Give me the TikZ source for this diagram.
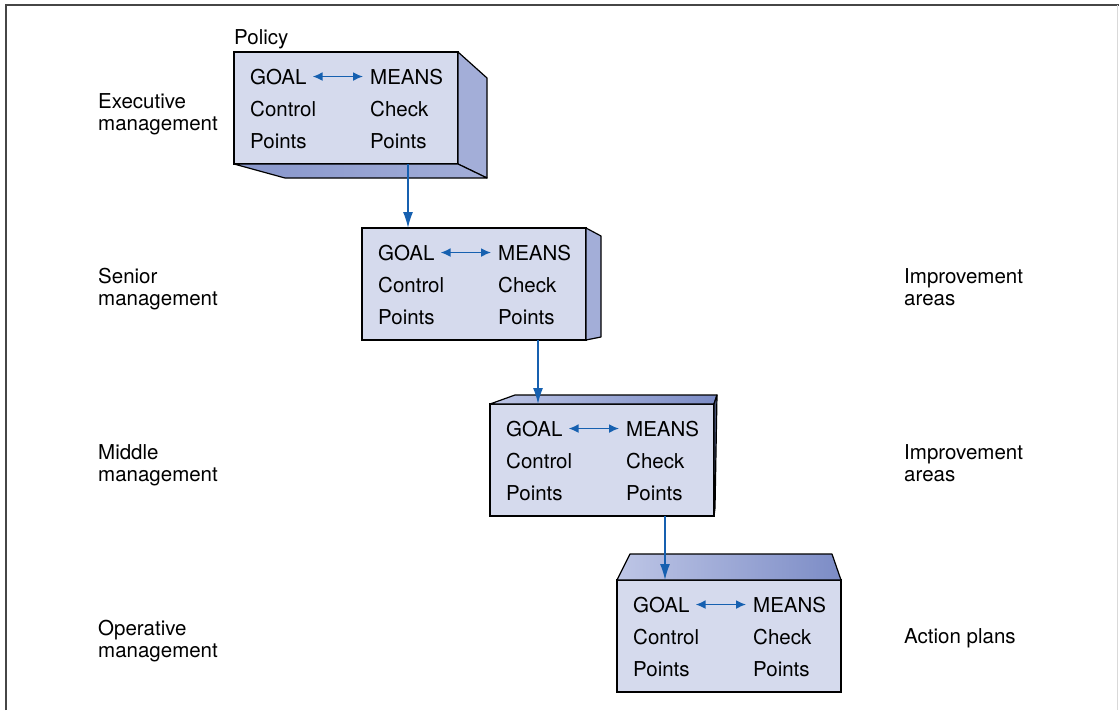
\documentclass[tikz,border=0pt]{standalone}
\usepackage{fontspec}
\setmainfont{TeX Gyre Heros}
\usetikzlibrary{arrows.meta,calc}
\definecolor{flowblue}{RGB}{22,96,176}
\definecolor{boxfront}{RGB}{213,218,237}
\definecolor{boxside}{RGB}{163,174,216}
\definecolor{boxlight}{RGB}{190,198,230}
\definecolor{boxdark}{RGB}{124,140,198}
\definecolor{framegray}{RGB}{70,70,70}

\begin{document}
\begin{tikzpicture}[x=1pt, y=-1pt,
        front/.style={rectangle, draw=black, line width=1.2pt, fill=boxfront, minimum width=224pt, minimum height=112pt, inner sep=0pt, outer sep=0pt, anchor=north west},
        face/.style={draw=black, line width=1.2pt, line join=round},
        cell/.style={inner sep=0pt, anchor=base west, font=\fontsize{20.5}{24}\selectfont},
        level/.style={inner sep=0pt, anchor=base west, align=left, font=\fontsize{20.5}{22}\selectfont},
        flow/.style={-{Latex[length=16pt,width=10pt]}, flowblue, line width=1.5pt},
        link/.style={{Latex[length=10pt,width=9pt]}-{Latex[length=10pt,width=9pt]}, flowblue, line width=1.6pt, shorten <=6pt, shorten >=7pt}]

        \useasboundingbox (0,0) rectangle (1119,710);

        % Frame
        \draw[framegray, line width=2.5pt] (6,710) -- (6,5) -- (1119,5);
        \draw[black!15, line width=1pt] (1117.5,5) -- (1117.5,710);

        % Box fronts
        \node[front] (box1) at (234,52) {};
        \node[front] (box2) at (362,228) {};
        \node[front] (box3) at (490,404) {};
        \node[front] (box4) at (617,580) {};

        % Box depth faces
        \draw[face, fill=boxside] (box1.north east) -- ++(29,26) -- ++(0,100) -- (box1.south east) -- cycle;
        \draw[face, left color=boxdark!70!boxside, right color=boxside] (box1.south west) -- ++(51,14) -- ($(box1.south east)+(29,14)$) -- (box1.south east) -- cycle;
        \draw[face, fill=boxside] (box2.north east) -- ++(15,8) -- ++(0,101) -- (box2.south east) -- cycle;
        \draw[face, left color=boxlight, right color=boxdark] (box3.north west) -- ++(25,-9) -- ($(box3.north east)+(3,-9)$) -- (box3.north east) -- cycle;
        \draw[face, fill=boxdark!60!black] (box3.north east) -- ++(3,-9) -- ($(box3.south east)+(1,-8)$) -- (box3.south east) -- cycle;
        \draw[face, left color=boxlight, right color=boxdark] (box4.north west) -- ++(13,-26) -- ($(box4.north east)+(-9,-26)$) -- (box4.north east) -- cycle;

        % Box contents
        \foreach \b in {1,2,3,4} {
            \node[cell] (goal\b) at ([shift={(16,32)}]box\b.north west) {GOAL};
            \node[cell] (means\b) at ([shift={(136,32)}]box\b.north west) {MEANS};
            \node[cell] (control\b) at ([shift={(16,64)}]box\b.north west) {Control};
            \node[cell] (check\b) at ([shift={(136,64)}]box\b.north west) {Check};
            \node[cell] (cpoints\b) at ([shift={(16,96)}]box\b.north west) {Points};
            \node[cell] (kpoints\b) at ([shift={(136,96)}]box\b.north west) {Points};
            \draw[link] (goal\b.east) -- (means\b.west);
        }

        % Level labels (base = last line)
        \node[level] (policy) at (234,44) {Policy};
        \node[level] (exec) at (98,130) {Executive\\management};
        \node[level] (senior) at (98,305) {Senior\\management};
        \node[level] (middle) at (98,481) {Middle\\management};
        \node[level] (oper) at (98,657) {Operative\\management};
        \node[level] (impr1) at (904,305) {Improvement\\areas};
        \node[level] (impr2) at (904,481) {Improvement\\areas};
        \node[level] (action) at (904,643) {Action plans};

        % Paths
        \coordinate (in2) at ($(box2.north west)+(46,0)$);
        \coordinate (in3) at ($(box3.north west)+(48,0)$);
        \coordinate (in4) at ($(box4.north west)+(48,0)$);
        \draw[flow] (box1.south -| in2) -- (in2);
        \draw[flow] (box2.south -| in3) -- (in3);
        \draw[flow] (box3.south -| in4) -- (in4);

    \end{tikzpicture}
\end{document}
